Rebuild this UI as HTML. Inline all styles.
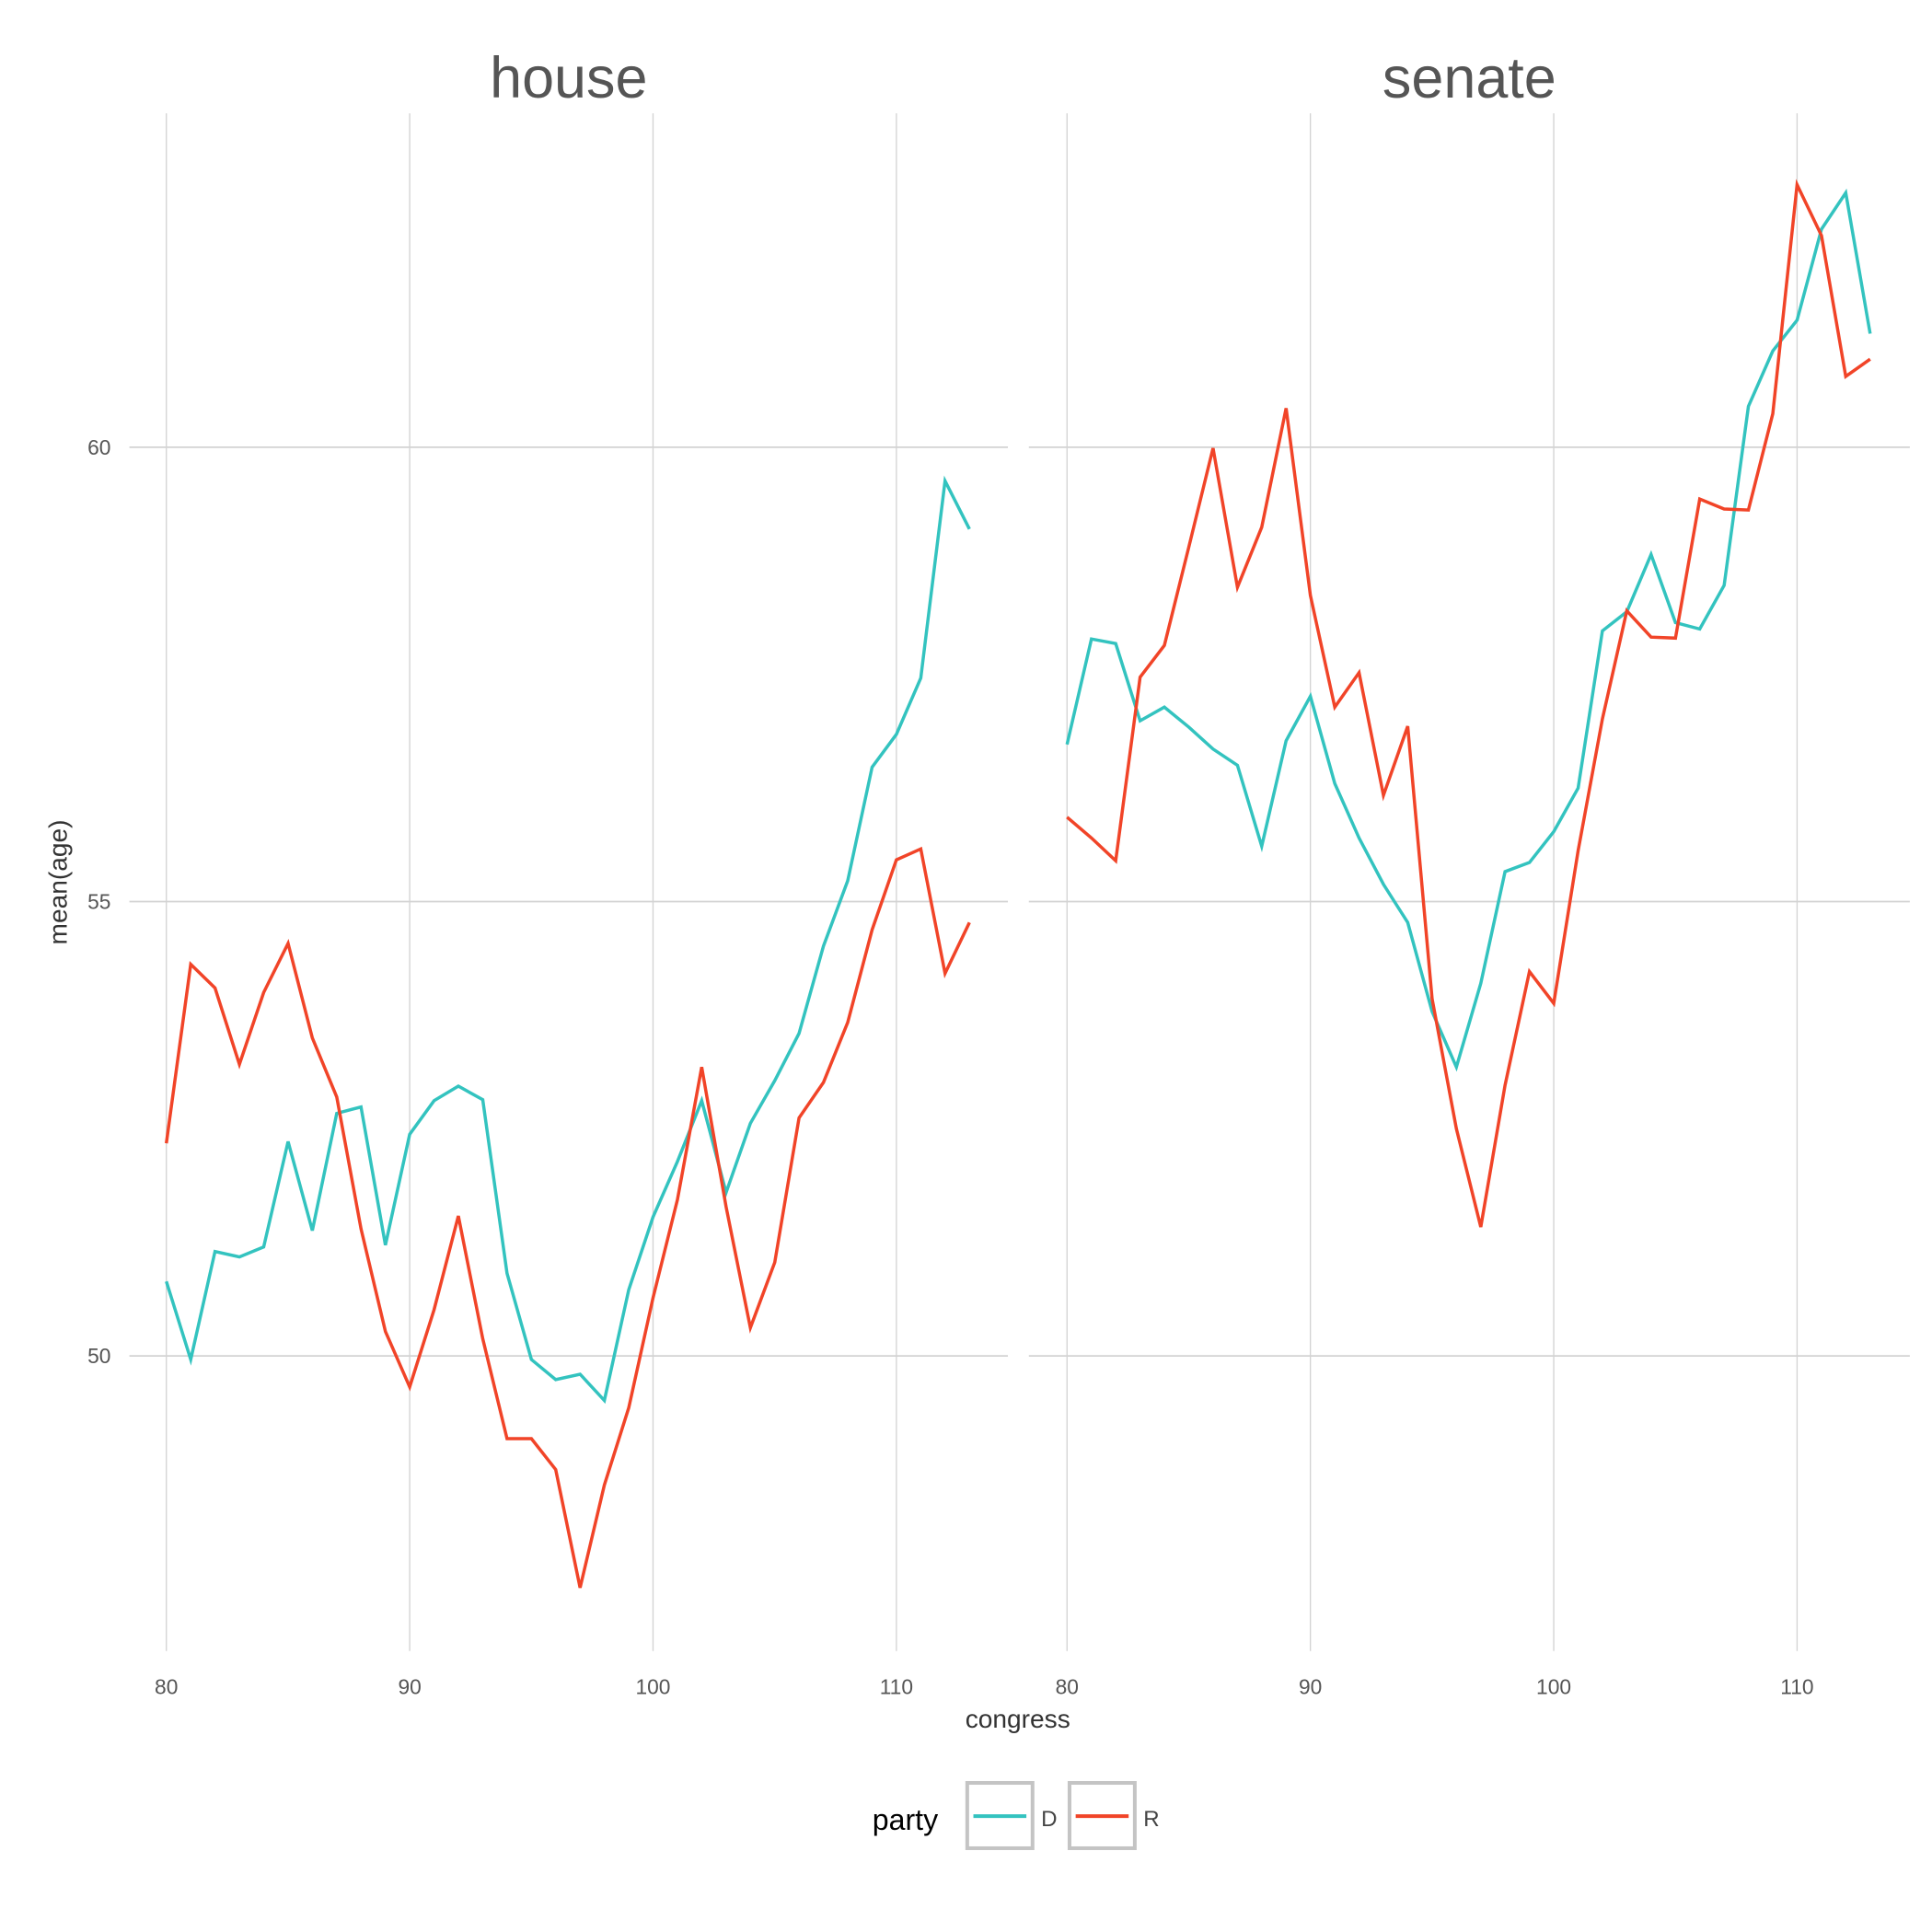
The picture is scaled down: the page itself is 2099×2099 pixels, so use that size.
<!DOCTYPE html>
<html><head><meta charset="utf-8"><style>
html,body{margin:0;padding:0;background:#fff;}
svg{display:block;font-family:"Liberation Sans",Arial,sans-serif;}
</style></head><body>
<svg id="chart" width="2099" height="2099" viewBox="0 0 1568 1568" xmlns="http://www.w3.org/2000/svg">
<g id="root"></g>
</svg>
<script>
const congress = [80,81,82,83,84,85,86,87,88,89,90,91,92,93,94,95,96,97,98,99,100,101,102,103,104,105,106,107,108,109,110,111,112,113];
const houseD = [50.82,49.96,51.15,51.09,51.2,52.36,51.38,52.67,52.74,51.22,52.44,52.81,52.97,52.82,50.91,49.96,49.74,49.8,49.51,50.73,51.53,52.14,52.81,51.8,52.56,53.03,53.55,54.51,55.23,56.48,56.84,57.46,59.63,59.1];
const houseR = [52.34,54.31,54.05,53.21,54.0,54.54,53.5,52.85,51.4,50.27,49.66,50.51,51.54,50.19,49.09,49.09,48.75,47.45,48.58,49.43,50.64,51.72,53.18,51.64,50.31,51.03,52.62,53.01,53.67,54.69,55.46,55.58,54.21,54.77];
const senateD = [56.73,57.89,57.84,56.99,57.14,56.92,56.68,56.5,55.61,56.77,57.26,56.3,55.7,55.19,54.77,53.79,53.18,54.1,55.33,55.43,55.77,56.25,57.98,58.19,58.82,58.07,58.0,58.48,60.45,61.06,61.4,62.4,62.8,61.25];
const senateR = [55.93,55.7,55.45,57.47,57.82,58.9,59.99,58.46,59.12,60.43,58.37,57.14,57.52,56.17,56.93,53.93,52.5,51.42,52.98,54.23,53.88,55.56,57.01,58.2,57.91,57.9,59.43,59.32,59.31,60.37,62.89,62.33,60.78,60.97];
const xTicks = [80,90,100,110];
const yTicks = [50,55,60];
const panelNames = ["house","senate"];

const NS="http://www.w3.org/2000/svg";
const root=document.getElementById('root');
function mk(tag,attrs,parent){const e=document.createElementNS(NS,tag);for(const k in attrs)e.setAttribute(k,attrs[k]);(parent||root).appendChild(e);return e;}
const yScale=v=>363+(60-v)*73.75;
const panels=[{x0:105,x1:818,ox:135,d:houseD,r:houseR},{x0:835,x1:1550,ox:866,d:senateD,r:senateR}];
const pxPer=19.75;
panels.forEach((p,i)=>{
  const xs=c=>p.ox+(c-80)*pxPer;
  const g=mk('g',{});
  
  
  xTicks.forEach(t=>{
    const l=mk('line',{x1:xs(t),x2:xs(t),y1:92,y2:1340,stroke:'#d3d3d3','stroke-width':1},g);
    
    
    const tx=mk('text',{x:xs(t),y:1375,'text-anchor':'middle','font-size':17,fill:'#555'},g);
    tx.textContent=t;
    
    
  });
  yTicks.forEach(t=>{
    const l=mk('line',{x1:p.x0,x2:p.x1,y1:yScale(t),y2:yScale(t),stroke:'#d3d3d3','stroke-width':1.3},g);
    
    
  });
  const title=mk('text',{x:(p.x0+p.x1)/2,y:79,'text-anchor':'middle','font-size':47,fill:'#555'},g);
  title.textContent=panelNames[i];
  
  
  [[p.d,'#33c3bf','line-d'],[p.r,'#f14428','line-r']].forEach(([arr,col,nm])=>{
    const pts=arr.map((v,j)=>xs(congress[j]).toFixed(1)+','+yScale(v).toFixed(1)).join(' ');
    const pl=mk('polyline',{points:pts,fill:'none',stroke:col,'stroke-width':2.6,'stroke-linejoin':'miter'},g);
    
    
  });
});
yTicks.forEach(t=>{
  const tx=mk('text',{x:90,y:yScale(t)+6,'text-anchor':'end','font-size':17,fill:'#555'});
  tx.textContent=t;
  
  
});
const xt=mk('text',{x:826,y:1402,'text-anchor':'middle','font-size':21,fill:'#333'});
xt.textContent='congress';


const yt=mk('text',{x:0,y:0,'text-anchor':'middle','font-size':21,fill:'#333',transform:'translate(54,716) rotate(-90)'});
yt.textContent='mean(age)';


const lg=mk('g',{});


const lt=mk('text',{x:708,y:1485,'font-size':24,fill:'#000'},lg);
lt.textContent='party';


[['D','#33c3bf',785],['R','#f14428',868]].forEach(([k,c,x])=>{
  const e=mk('g',{},lg);
  
  
  mk('rect',{x:x,y:1447,width:53,height:53,fill:'none',stroke:'#c4c4c4','stroke-width':3},e);
  mk('line',{x1:x+5,x2:x+48,y1:1474,y2:1474,stroke:c,'stroke-width':3},e);
  const t=mk('text',{x:x+60,y:1482,'font-size':18,fill:'#444'},e);
  t.textContent=k;
});
</script>
</body></html>
